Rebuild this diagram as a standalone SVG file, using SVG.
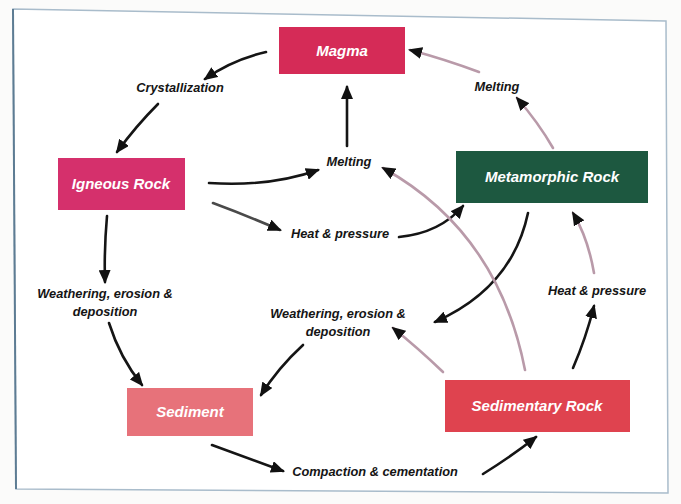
<svg xmlns="http://www.w3.org/2000/svg" width="681" height="504" viewBox="0 0 681 504">
  <defs>
    <style>
      .lbl { font-family: "Liberation Sans", Arial, sans-serif; font-size: 12.8px; font-weight: bold; font-style: italic; fill: #151515; text-anchor: middle; }
      .box-txt { font-family: "Liberation Sans", Arial, sans-serif; font-size: 15px; font-weight: bold; font-style: italic; fill: #ffffff; text-anchor: middle; }
      .dark { fill: none; stroke: #151515; stroke-width: 2.6; stroke-linecap: round; marker-end: url(#head); }
      .greydark { fill: none; stroke: #4a4a4a; stroke-width: 2.6; stroke-linecap: round; marker-end: url(#head); }
      .pale { fill: none; stroke: #b99aa9; stroke-width: 2.6; stroke-linecap: round; marker-end: url(#head); }
    </style>
    <marker id="head" markerUnits="userSpaceOnUse" markerWidth="14" markerHeight="12" viewBox="0 0 14 12" refX="12" refY="6" orient="auto">
      <path d="M0,0 L14,6 L0,12 Z" fill="#111111"/>
    </marker>
  </defs>

  <!-- page background and frame -->
  <rect x="0" y="0" width="681" height="504" fill="#fbfbfa"/>
  <polygon points="13,9 666,21 668,493 16,489" fill="#ffffff" stroke="#a9bccb" stroke-width="1.5"/>
  <line x1="13" y1="9" x2="16" y2="489" stroke="#5d7c93" stroke-width="2"/>

  <!-- connectors -->
  <g id="connectors">
    <path class="dark" d="M266,52 Q232,60 205,79"/>
    <path class="dark" d="M158,104 Q136,126 117,152"/>
    <path class="dark" d="M209,183 Q270,187 318,170"/>
    <path class="dark" d="M347,146 L347,87"/>
    <path class="greydark" d="M213,203 Q248,216 280,230"/>
    <path class="dark" d="M399,237 Q440,233 463,206"/>
    <path class="dark" d="M107,216 Q104,250 105,282"/>
    <path class="dark" d="M109,323 Q120,358 142,385"/>
    <path class="dark" d="M303,345 Q278,368 261,395"/>
    <path class="dark" d="M212,445 Q250,459 283,471"/>
    <path class="dark" d="M483,474 Q512,456 536,437"/>
    <path class="dark" d="M528,213 Q512,288 435,322"/>
    <path class="dark" d="M573,368 Q586,338 594,306"/>
    <path class="pale" d="M594,273 Q588,238 573,213"/>
    <path class="pale" d="M553,148 Q538,122 517,98"/>
    <path class="pale" d="M479,72 Q444,59 410,50"/>
    <path class="pale" d="M525,370 Q498,232 383,168"/>
    <path class="pale" d="M443,372 Q418,348 393,328"/>
  </g>

  <!-- rock and material nodes -->
  <g id="magma">
    <rect x="279" y="27" width="126" height="47" fill="#d52b57"/>
    <text class="box-txt" x="342" y="56">Magma</text>
  </g>
  <g id="igneous-rock">
    <rect x="58" y="158" width="127" height="52" fill="#d5306c"/>
    <text class="box-txt" x="121" y="189">Igneous Rock</text>
  </g>
  <g id="metamorphic-rock">
    <rect x="456" y="151" width="192" height="52" fill="#1d5840"/>
    <text class="box-txt" x="552" y="182">Metamorphic Rock</text>
  </g>
  <g id="sediment">
    <rect x="127" y="388" width="126" height="48" fill="#e7727a"/>
    <text class="box-txt" x="190" y="417">Sediment</text>
  </g>
  <g id="sedimentary-rock">
    <rect x="445" y="380" width="185" height="52" fill="#df434f"/>
    <text class="box-txt" x="537" y="411">Sedimentary Rock</text>
  </g>

  <!-- process labels -->
  <g id="crystallization"><text class="lbl" x="180" y="92">Crystallization</text></g>
  <g id="melting-top"><text class="lbl" x="497" y="91">Melting</text></g>
  <g id="melting-center"><text class="lbl" x="349" y="166">Melting</text></g>
  <g id="heat-pressure-center"><text class="lbl" x="340" y="238">Heat &amp; pressure</text></g>
  <g id="heat-pressure-right"><text class="lbl" x="597" y="295">Heat &amp; pressure</text></g>
  <g id="weathering-left">
    <text class="lbl" x="105" y="298">Weathering, erosion &amp;</text>
    <text class="lbl" x="105" y="316">deposition</text>
  </g>
  <g id="weathering-center">
    <text class="lbl" x="338" y="318">Weathering, erosion &amp;</text>
    <text class="lbl" x="338" y="336">deposition</text>
  </g>
  <g id="compaction"><text class="lbl" x="375" y="476">Compaction &amp; cementation</text></g>
</svg>
